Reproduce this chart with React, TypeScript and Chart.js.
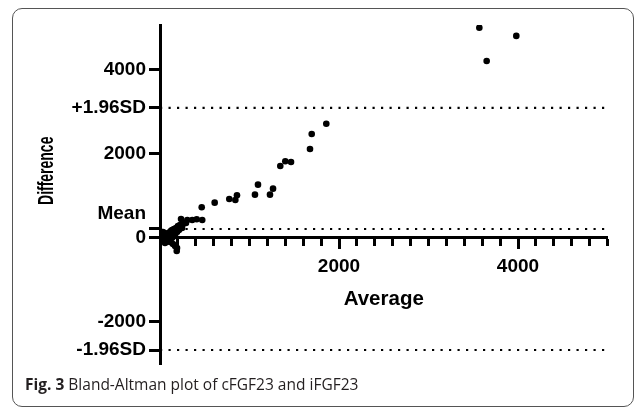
import React, { useEffect, useRef } from "react";
import { Chart, registerables } from "chart.js";

Chart.register(...registerables);

// ---- Data ----
const averageValues = [
  3568, 3981, 3650,
  1858, 1695, 1676, 1464, 1400, 1344, 1095, 1263, 1061, 1229, 860, 842, 774, 611, 466,
  235, 305, 360, 410, 472,
  34, 67, 89, 112, 134, 156, 179, 201, 223, 257, 290, 246, 212, 78, 112, 145, 168, 190,
  187, 56, 45, 134, 168, 100, 22, 34, 90, 120, 150, 60, 190, 230, 10, 20,
];
const differenceValues = [
  5007, 4810, 4214,
  2721, 2476, 2119, 1810, 1826, 1714, 1269, 1174, 1031, 1031, 1017, 905, 929, 841, 731,
  452, 429, 429, 445, 429,
  0, 48, 119, 143, 190, 214, 238, 286, 310, 333, 357, 238, 190, -48, -95, -143, -190, -238,
  -310, -119, -71, 0, 48, 48, 71, 143, -20, 70, 100, 20, 140, 260, 30, -30,
];
const meanDifference = 214;
const upperLimit = 3095; // +1.96 SD
const lowerLimit = -2667; // -1.96 SD
const yNumericTicks = [-2000, 0, 2000, 4000];
const xLabelTicks = [2000, 4000];
const xMinorTicks = [
  200, 400, 600, 800, 1000, 1200, 1400, 1600, 1800, 2000, 2200, 2400, 2600, 2800, 3000,
  3200, 3400, 3600, 3800, 4000, 4200, 4400, 4600, 4800, 5000,
];
const xMin = 0;
const xMax = 5000;
const yMin = -3000;
const yMax = 5070;
const xTitle = "Average";
const yTitle = "Difference";

const FONT = "'Liberation Sans', Arial, Helvetica, sans-serif";

// Draws the (narrow) rotated y-axis title beside the left axis
const yTitlePlugin = {
  id: "yTitleNarrow",
  afterDraw(chart: any) {
    const ctx = chart.ctx;
    const area = chart.chartArea;
    ctx.save();
    ctx.translate(47, area.top + (area.bottom - area.top) * 0.43);
    ctx.rotate(-Math.PI / 2);
    ctx.scale(0.65, 1);
    ctx.font = `bold 21.5px ${FONT}`;
    ctx.fillStyle = "#000";
    ctx.textAlign = "center";
    ctx.textBaseline = "middle";
    ctx.fillText(yTitle, 0, 0);
    ctx.restore();
  },
};

export default function App() {
  const canvasRef = useRef<HTMLCanvasElement>(null);

  useEffect(() => {
    const canvas = canvasRef.current;
    if (!canvas) return;
    const points = averageValues.map((x, i) => ({ x, y: differenceValues[i] }));
    const refLine = (v: number) => [
      { x: xMin, y: v },
      { x: xMax, y: v },
    ];
    const yTicks = [...yNumericTicks, meanDifference, upperLimit, lowerLimit].sort((a, b) => a - b);
    const labelFor = (v: number) =>
      v === meanDifference
        ? ["Mean", ""]
        : v === upperLimit
        ? "+1.96SD"
        : v === lowerLimit
        ? "-1.96SD"
        : String(v);

    const lineStyle = {
      type: "line" as const,
      borderColor: "#000",
      borderWidth: 2.2,
      borderDash: [2.2, 6.3],
      pointRadius: 0,
      fill: false,
      tension: 0,
    };

    const chart = new Chart(canvas, {
      type: "scatter",
      data: {
        datasets: [
          { ...lineStyle, data: refLine(upperLimit) },
          { ...lineStyle, data: refLine(meanDifference) },
          { ...lineStyle, data: refLine(lowerLimit) },
          {
            type: "scatter",
            data: points,
            backgroundColor: "#000",
            borderWidth: 0,
            pointRadius: 3.3,
          },
        ] as any,
      },
      plugins: [yTitlePlugin],
      options: {
        animation: false,
        responsive: false,
        maintainAspectRatio: false,
        layout: { padding: { left: 0, top: 25, right: 27.5, bottom: 45 } },
        plugins: { legend: { display: false }, tooltip: { enabled: false } },
        scales: {
          x: {
            type: "linear",
            position: { y: 0 } as any,
            min: xMin,
            max: xMax,
            afterBuildTicks: (s: any) => {
              s.ticks = xMinorTicks.map((v) => ({ value: v }));
            },
            afterFit: (s: any) => {
              s.height = 0;
            },
            ticks: { display: false },
            grid: {
              drawOnChartArea: false,
              drawTicks: true,
              tickLength: 7,
              tickWidth: 3,
              tickColor: "#000",
            },
            border: { display: true, color: "#000", width: 3 },
          },
          x2: {
            type: "linear",
            axis: "x",
            position: { y: 0 } as any,
            min: xMin,
            max: xMax,
            afterBuildTicks: (s: any) => {
              s.ticks = xLabelTicks.map((v) => ({ value: v }));
            },
            afterFit: (s: any) => {
              s.height = 0;
            },
            ticks: {
              color: "#000",
              font: { family: FONT, size: 19, weight: "bold" },
              padding: 6,
              maxRotation: 0,
              autoSkip: false,
              callback: (v: any) => String(v),
            },
            grid: {
              drawOnChartArea: false,
              drawTicks: true,
              tickLength: 11,
              tickWidth: 3,
              tickColor: "#000",
            },
            border: { display: false },
            title: {
              display: true,
              text: xTitle,
              color: "#000",
              font: { family: FONT, size: 20.5, weight: "bold" },
              padding: { top: 0, bottom: -73.3 },
            },
          } as any,
          y: {
            type: "linear",
            position: "left",
            min: yMin,
            max: yMax,
            afterBuildTicks: (s: any) => {
              s.ticks = yTicks.map((v) => ({ value: v }));
            },
            afterFit: (s: any) => {
              s.width = 160;
            },
            ticks: {
              autoSkip: false,
              color: "#000",
              padding: 3,
              callback: (v: any) => labelFor(Number(v)),
              font: (ctx: any) => ({
                family: FONT,
                size: 19,
                weight: "bold",
                lineHeight: ctx.tick && ctx.tick.value === meanDifference ? 1.58 : 1.2,
              }),
            },
            grid: {
              drawOnChartArea: false,
              drawTicks: true,
              tickLength: 11,
              tickWidth: 3,
              tickColor: "#000",
            },
            border: { display: true, color: "#000", width: 3 },
            title: { display: false },
          },
        } as any,
      },
    });
    return () => chart.destroy();
  }, []);

  return (
    <div
      style={{
        position: "fixed",
        left: 0,
        top: 0,
        width: 635,
        height: 409,
        background: "#fff",
        overflow: "hidden",
      }}
    >
      <canvas
        ref={canvasRef}
        width={635}
        height={409}
        style={{ position: "absolute", left: 0, top: 0, width: 635, height: 409, display: "block" }}
      />
      <div
        style={{
          position: "absolute",
          left: 25,
          top: 375,
          fontFamily: "'Open Sans', 'Noto Sans', sans-serif",
          fontSize: 15.5,
          lineHeight: "18px",
          color: "#231f20",
          whiteSpace: "nowrap",
        }}
      >
        <b>Fig. 3</b> Bland-Altman plot of cFGF23 and iFGF23
      </div>
      <div
        style={{
          position: "absolute",
          left: 12,
          top: 8,
          width: 622,
          height: 399,
          boxSizing: "border-box",
          border: "1.5px solid #555",
          borderRadius: 10,
          pointerEvents: "none",
        }}
      />
    </div>
  );
}
